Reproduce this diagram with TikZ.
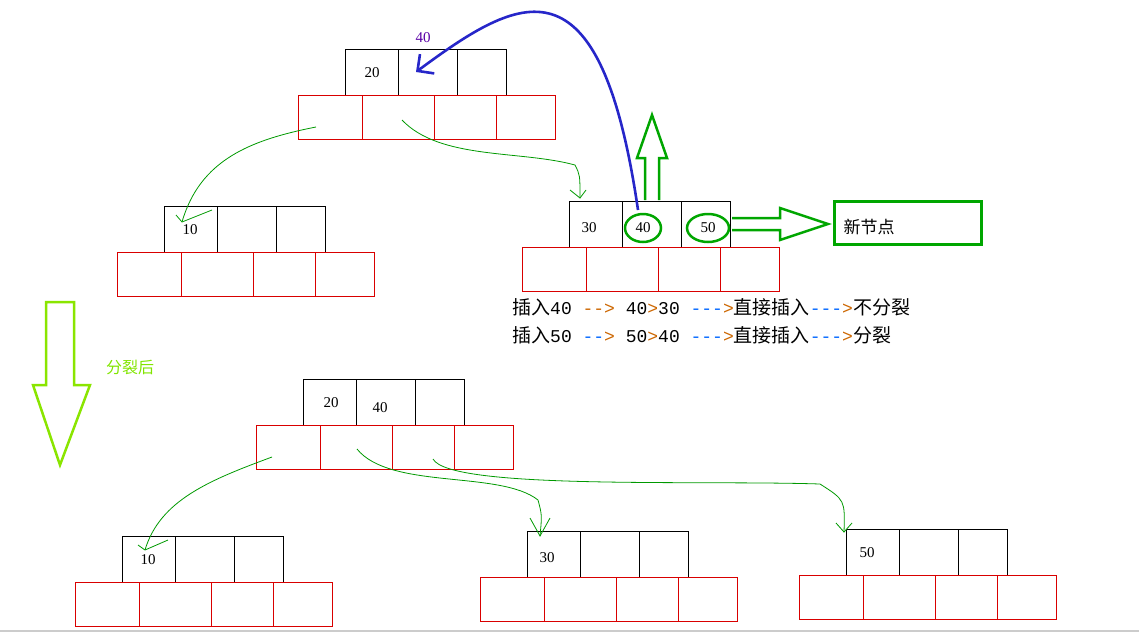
\documentclass[tikz,border=0pt]{standalone}
\usepackage{fontspec}
\setmainfont{Liberation Serif}
\setmonofont{Liberation Mono}
\newfontfamily\cjk{Noto Sans CJK SC}
\usetikzlibrary{arrows.meta}
\begin{document}
\begin{tikzpicture}[x=1pt,y=-1pt,
  kcell/.style={draw=black,line width=0.6pt},
  pcell/.style={draw=red!85!black,line width=0.6pt},
  num/.style={font=\fontsize{15}{15}\selectfont},
  gline/.style={draw=green!60!black,line width=0.8pt},
  hollow/.style={draw=green!65!black,line width=2.5pt,line join=miter}]
\useasboundingbox (0,0) rectangle (1139,632);
\newcommand{\bnode}[3]{% name, x, y of black top-left
  \draw[kcell] (#2,#3) rectangle ++(53,46);
  \draw[kcell] (#2+53,#3) rectangle ++(59,46);
  \draw[kcell] (#2+112,#3) rectangle ++(49,46);
  \draw[pcell] (#2-47,#3+46) rectangle ++(64,44);
  \draw[pcell] (#2+17,#3+46) rectangle ++(72,44);
  \draw[pcell] (#2+89,#3+46) rectangle ++(62,44);
  \draw[pcell] (#2+151,#3+46) rectangle ++(59,44);
  \coordinate (#1) at (#2,#3);}
\newcommand{\ar}[1]{\textcolor{blue!60!cyan}{#1}\textcolor{orange!80!black}{>}}
\newcommand{\cj}[1]{{\cjk\fontsize{19}{19}\selectfont #1}}
\bnode{r}{345}{49}
\bnode{a}{164}{206}
\bnode{b}{569}{201}
\bnode{r2}{303}{379}
\bnode{c}{122}{536}
\bnode{d}{527}{531}
\bnode{e}{846}{529}
% labels
\node[num] (t20) at (372,73) {20};
\node[num,text=violet!70!blue] (t40p) at (423,38) {40};
\node[num] (t10) at (190,230) {10};
\node[num] (t30) at (589,228) {30};
\node[num] (tb40) at (643,228) {40};
\node[num] (tb50) at (708,228) {50};
\node[num] (u20) at (331,403) {20};
\node[num] (u40) at (380,408) {40};
\node[num] (u10) at (148,560) {10};
\node[num] (u30) at (547,558) {30};
\node[num] (u50) at (867,553) {50};
% green ellipses
\draw[green!65!black,line width=2.5pt] (643,228) ellipse (18 and 14);
\draw[green!65!black,line width=2.5pt] (708,228) ellipse (21 and 14);
% up arrow
\draw[hollow] (645,200) -- (645,158) -- (637,158) -- (652,115) -- (667,158) -- (659,158) -- (659,200);
% right arrow
\draw[hollow] (732,218) -- (780,218) -- (780,208) -- (828,224) -- (780,240) -- (780,230) -- (732,230);
\node[draw=green!65!black,line width=2.5pt,minimum width=147pt,minimum height=43pt,anchor=north west] (nn) at (833,200) {};
\node[anchor=west,font=\cjk\fontsize{17}{17}\selectfont] at (840,227) {新节点};
% blue curve
\draw[blue!75!black!85!white,line width=2.6pt,-{Straight Barb[length=12pt,width=24pt]}] (638,210) .. controls (600,-50) and (520,-5) .. (416,72);
% yellow-green down arrow
\draw[draw=lime!80!green!90!black,line width=2.5pt] (46,302) -- (74,302) -- (74,385) -- (90,385) -- (60,465) -- (33,385) -- (46,385) -- cycle;
\node[text=lime!75!green!90!black,font=\cjk\fontsize{16}{16}\selectfont] at (130,367) {分裂后};
% text lines
\node[anchor=west,font=\ttfamily\fontsize{18}{18}\selectfont,inner sep=0pt] at (512,307) {\cj{插入}40 \textcolor{orange!80!black}{-{}->} 40\textcolor{orange!80!black}{>}30 \ar{-{}-{}-}\cj{直接插入}\ar{-{}-{}-}\cj{不分裂}};
\node[anchor=west,font=\ttfamily\fontsize{18}{18}\selectfont,inner sep=0pt] at (512,335) {\cj{插入}50 \ar{-{}-} 50\textcolor{orange!80!black}{>}40 \ar{-{}-{}-}\cj{直接插入}\ar{-{}-{}-}\cj{分裂}};
% green hand-drawn links
\draw[gline] (316,127) .. controls (250,140) and (200,160) .. (182,222);
\draw[gline] (176,215) -- (182,222) -- (212,210);
\draw[gline] (402,120) .. controls (440,160) and (520,150) .. (575,165) .. controls (580,175) .. (580,198);
\draw[gline] (570,190) -- (580,198) -- (586,190);
\draw[gline] (272,457) .. controls (210,480) and (160,500) .. (145,550);
\draw[gline] (138,545) -- (145,550) -- (168,540);
\draw[gline] (357,449) .. controls (390,490) and (500,470) .. (538,500) .. controls (542,515) .. (540,536);
\draw[gline] (530,518) -- (540,536) -- (550,518);
\draw[gline] (433,459) .. controls (450,490) and (700,480) .. (820,484) .. controls (845,500) .. (844,532);
\draw[gline] (836,523) -- (844,532) -- (852,523);
\draw[gray!40,line width=2pt] (0,631) -- (1139,631);
\end{tikzpicture}
\end{document}
